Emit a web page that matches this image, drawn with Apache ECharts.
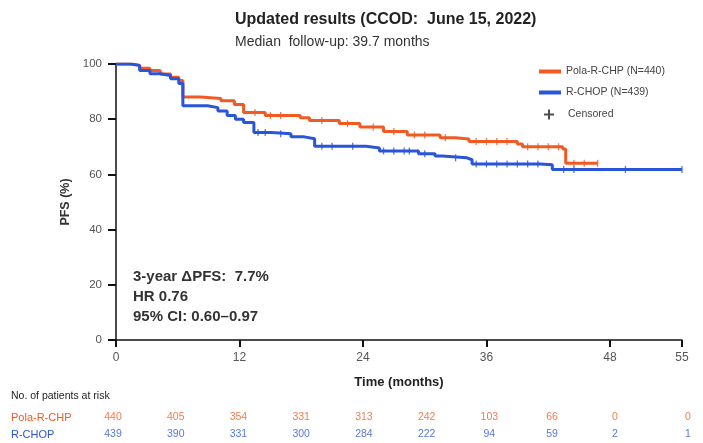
<!DOCTYPE html>
<html>
<head>
<meta charset="utf-8">
<script src="https://cdn.jsdelivr.net/npm/echarts@6/dist/echarts.min.js"></script>
<style>html,body{margin:0;padding:0;background:#fff}#c{width:703px;height:443px}</style>
</head>
<body>
<div id="c"></div>
<script>
// ---- data ----
const polaName = 'Pola-R-CHP (N=440)';
const rchopName = 'R-CHOP (N=439)';
const polaTime = [0, 1.5, 2.3, 3.3, 4.3, 5.3, 6.1, 6.5, 8.2, 10.2, 11.5, 12.4, 14.5, 17.9, 18.8, 21.7, 23.7, 26.0, 28.3, 31.5, 33.0, 34.3, 39.0, 39.5, 43.4, 43.7, 46.8];
const polaPFS  = [100, 99.5, 98.5, 97.6, 96.4, 95.2, 94, 88, 87.5, 86.7, 85.3, 82.4, 81.3, 80.5, 79.5, 78.4, 77.2, 75.5, 74.3, 73.3, 72.8, 71.9, 71, 70, 69.2, 64, 64];
const rchopTime = [0, 1.4, 2.3, 3.3, 4.3, 5.3, 6.1, 6.5, 8.9, 9.9, 10.8, 11.6, 12.4, 13.4, 15.1, 17.0, 18.3, 19.3, 24.3, 25.6, 29.4, 31.0, 31.7, 34.1, 34.6, 41.2, 42.4, 55];
const rchopPFS  = [100, 99.5, 97.6, 96.5, 95.8, 94.7, 92.9, 84.9, 84.2, 83, 81.3, 80, 78.8, 75.2, 74.7, 73.6, 72.9, 70.2, 69.6, 68.5, 67.5, 66.7, 66, 65.3, 63.8, 63.5, 61.8, 61.8];
const polaCensor = [13.5, 15, 16, 20, 22.5, 25, 27, 29, 30, 32, 35, 36, 37, 38, 40, 41, 42, 43, 44.5, 45.5, 46.8];
const rchopCensor = [13.8, 14.5, 16, 20, 21, 23, 26, 27, 28, 28.5, 30, 33, 35, 36, 37, 38, 39, 40, 41, 43.5, 44.5, 49.5, 55];
const riskRows = ['Pola-R-CHP', 'R-CHOP'];
const riskTimes = [0, 6, 12, 18, 24, 30, 36, 42, 48, 55];
const riskPola = [440, 405, 354, 331, 313, 242, 103, 66, 0, 0];
const riskRchop = [439, 390, 331, 300, 284, 222, 94, 59, 2, 1];
const titleText = 'Updated results (CCOD:  June 15, 2022)';
const subText = 'Median  follow-up: 39.7 months';
const noteText = '3-year \u0394PFS:  7.7%\nHR 0.76\n95% CI: 0.60\u20130.97';
const riskHeader = 'No. of patients at risk';

const ORANGE = '#F15A22';
const BLUE = '#2A55D8';
const FONT = '"Liberation Sans", Arial, sans-serif';

function zip(a, b) { return a.map((v, i) => [v, b[i]]); }
function kmAt(T, S, t) { let v = S[0]; for (let i = 0; i < T.length; i++) { if (T[i] <= t) v = S[i]; } return v; }

const chart = echarts.init(document.getElementById('c'), null, {renderer: 'canvas'});
const plus = 'path://M4,0H6V4H10V6H6V10H4V6H0V4H4Z';

chart.setOption({
  animation: false,
  textStyle: {fontFamily: FONT},
  title: [
    {text: titleText, left: 235, top: 12, padding: 0, textStyle: {fontFamily: FONT, fontSize: 16, fontWeight: 'bold', color: '#222'}},
    {text: subText, left: 235, top: 35, padding: 0, textStyle: {fontFamily: FONT, fontSize: 14, fontWeight: 'normal', color: '#333'}},
    {text: noteText, left: 133, top: 267, padding: 0, textStyle: {fontFamily: FONT, fontSize: 15, fontWeight: 'bold', color: '#333', lineHeight: 20}},
    {text: riskHeader, left: 11, top: 391, padding: 0, textStyle: {fontFamily: FONT, fontSize: 10.5, fontWeight: 'normal', color: '#222'}}
  ],
  legend: [
    {orient: 'vertical', left: 539, top: 66, itemWidth: 22, itemHeight: 4, itemGap: 10, padding: 0,
     data: [{name: polaName, icon: 'rect'}, {name: rchopName, icon: 'rect'}],
     textStyle: {fontSize: 10.5, color: '#444', fontFamily: FONT}},
    {orient: 'vertical', left: 544, top: 109, itemWidth: 10, itemHeight: 10, padding: 0,
     data: [{name: 'Censored', icon: plus}],
     textStyle: {fontSize: 10.5, color: '#444', fontFamily: FONT, padding: [0, 0, 0, 9]}}
  ],
  grid: [
    {left: 116, right: 21, top: 64, bottom: 103},
    {left: 113, right: 15, top: 409, height: 36}
  ],
  xAxis: [
    {type: 'value', gridIndex: 0, min: 0, max: 55, interval: 12,
     name: 'Time (months)', nameLocation: 'middle', nameGap: 36,
     nameTextStyle: {fontSize: 13, fontWeight: 'bold', color: '#222', fontFamily: FONT},
     axisLine: {show: true, lineStyle: {color: '#111', width: 1.5}},
     axisTick: {show: true, length: 7, lineStyle: {color: '#111', width: 2}},
     axisLabel: {fontSize: 12, color: '#555', margin: 12},
     splitLine: {show: false}},
    {type: 'value', gridIndex: 1, min: 0, max: 55, show: false}
  ],
  yAxis: [
    {type: 'value', gridIndex: 0, min: 0, max: 100, interval: 20,
     name: 'PFS (%)', nameLocation: 'middle', nameGap: 44, nameRotate: 90,
     nameTextStyle: {fontSize: 12.5, fontWeight: 'bold', color: '#333', fontFamily: FONT},
     axisLine: {show: true, lineStyle: {color: '#111', width: 1.5}},
     axisTick: {show: true, length: 8, lineStyle: {color: '#111', width: 2}},
     axisLabel: {fontSize: 11.5, color: '#555', margin: 14},
     splitLine: {show: false}},
    {type: 'category', gridIndex: 1, data: riskRows, inverse: true,
     axisLine: {show: false}, axisTick: {show: false},
     axisLabel: {align: 'left', margin: 102, fontSize: 11,
       formatter: v => v === riskRows[0] ? '{o|' + v + '}' : '{b|' + v + '}',
       rich: {o: {color: ORANGE, fontSize: 11, fontFamily: FONT}, b: {color: BLUE, fontSize: 11, fontFamily: FONT}}}}
  ],
  series: [
    {name: polaName, type: 'line', step: 'end', xAxisIndex: 0, yAxisIndex: 0, data: zip(polaTime, polaPFS),
     showSymbol: false, symbol: 'none', color: ORANGE, lineStyle: {color: ORANGE, width: 3}, z: 2},
    {name: rchopName, type: 'line', step: 'end', xAxisIndex: 0, yAxisIndex: 0, data: zip(rchopTime, rchopPFS),
     showSymbol: false, symbol: 'none', color: BLUE, lineStyle: {color: BLUE, width: 3}, z: 3},
    {name: 'polaCens', type: 'scatter', xAxisIndex: 0, yAxisIndex: 0, symbol: 'rect', symbolSize: [1.3, 7],
     data: polaCensor.map(t => [t, kmAt(polaTime, polaPFS, t)]), itemStyle: {color: ORANGE}, z: 4},
    {name: 'rchopCens', type: 'scatter', xAxisIndex: 0, yAxisIndex: 0, symbol: 'rect', symbolSize: [1.3, 7],
     data: rchopCensor.map(t => [t, kmAt(rchopTime, rchopPFS, t)]), itemStyle: {color: BLUE}, z: 4},
    {name: 'Censored', type: 'scatter', xAxisIndex: 0, yAxisIndex: 0, symbol: plus, data: [], itemStyle: {color: '#222'}},
    {name: 'riskPola', type: 'scatter', xAxisIndex: 1, yAxisIndex: 1, symbolSize: 0,
     data: riskTimes.map((t, i) => [t, riskRows[0], riskPola[i]]),
     label: {show: true, position: 'inside', formatter: p => String(p.value[2]), color: ORANGE, fontSize: 10.5, fontFamily: FONT}},
    {name: 'riskRchop', type: 'scatter', xAxisIndex: 1, yAxisIndex: 1, symbolSize: 0,
     data: riskTimes.map((t, i) => [t, riskRows[1], riskRchop[i]]),
     label: {show: true, position: 'inside', formatter: p => String(p.value[2]), color: BLUE, fontSize: 10.5, fontFamily: FONT}}
  ]
});
</script>
</body>
</html>
